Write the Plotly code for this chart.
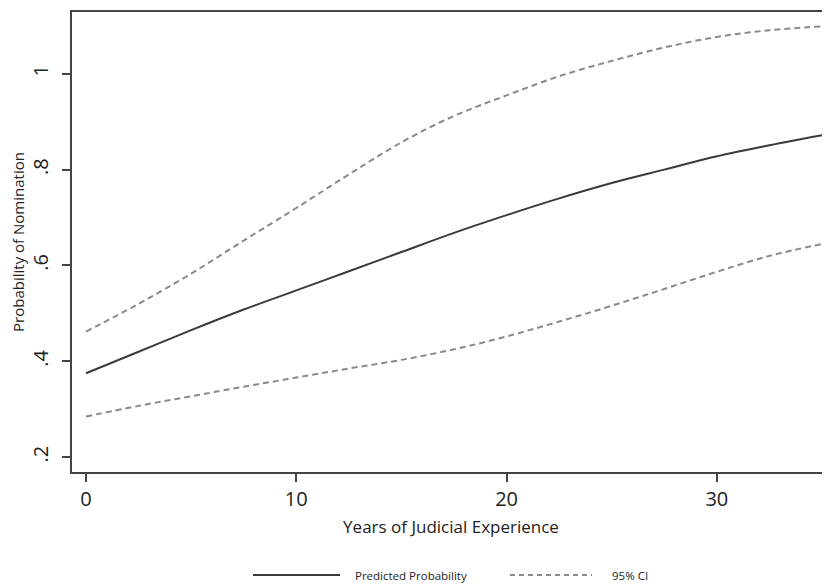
import plotly.graph_objects as go

years = [0, 2.5, 5, 7.5, 10, 12.5, 15, 17.5, 20, 22.5, 25, 27.5, 30, 32.5, 35]
predicted = [0.375, 0.420, 0.465, 0.508, 0.548, 0.588, 0.628, 0.668, 0.705,
             0.740, 0.772, 0.800, 0.828, 0.851, 0.872]
ci_upper = [0.462, 0.520, 0.583, 0.652, 0.720, 0.790, 0.857, 0.912, 0.955,
            0.995, 1.027, 1.055, 1.077, 1.091, 1.099]
ci_lower = [0.285, 0.307, 0.327, 0.347, 0.366, 0.385, 0.403, 0.425, 0.452,
            0.483, 0.516, 0.551, 0.587, 0.620, 0.645]

y_ticks = [0.2, 0.4, 0.6, 0.8, 1.0]
y_tick_labels = [".2", ".4", ".6", ".8", "1"]
x_ticks = [0, 10, 20, 30]
legend_labels = ["Predicted Probability", "95% CI"]

font_family = "Open Sans, Lato, sans-serif"
solid_color = "#3a3a3a"
dash_color = "#8a8a8a"
dash_style = "6px,4px"

fig = go.Figure()
fig.add_trace(go.Scatter(x=years, y=predicted, mode="lines", name=legend_labels[0],
                         line=dict(color=solid_color, width=2, shape="spline")))
fig.add_trace(go.Scatter(x=years, y=ci_upper, mode="lines", name=legend_labels[1],
                         line=dict(color=dash_color, width=2, dash=dash_style, shape="spline")))
fig.add_trace(go.Scatter(x=years, y=ci_lower, mode="lines", name=legend_labels[1],
                         line=dict(color=dash_color, width=2, dash=dash_style, shape="spline")))

# legend drawn below the plot (line samples + labels)
leg_y = -0.224
fig.add_shape(type="line", xref="paper", yref="paper", x0=0.2388, x1=0.3536,
              y0=leg_y, y1=leg_y, line=dict(color=solid_color, width=2))
fig.add_shape(type="line", xref="paper", yref="paper", x0=0.5778, x1=0.686,
              y0=leg_y, y1=leg_y, line=dict(color=dash_color, width=2, dash="5px,4px"))
fig.add_annotation(xref="paper", yref="paper", x=0.3707, y=leg_y, xanchor="left",
                   yanchor="middle", text=legend_labels[0], showarrow=False,
                   font=dict(size=11.5, color="#222"))
fig.add_annotation(xref="paper", yref="paper", x=0.7098, y=leg_y, xanchor="left",
                   yanchor="middle", text=legend_labels[1], showarrow=False,
                   font=dict(size=11.5, color="#222"))

fig.update_layout(
    width=822, height=580,
    margin=dict(l=64, r=0, t=4, b=116, autoexpand=False),
    paper_bgcolor="white", plot_bgcolor="white",
    font=dict(family=font_family, color="#222"),
    showlegend=False,
    xaxis=dict(range=[-0.666, 35.38], tickvals=x_ticks, ticks="outside", ticklen=8,
               tickwidth=1.5, tickcolor="#444", showline=True, linecolor="#444",
               linewidth=2, mirror=True, showgrid=False, zeroline=False, automargin=False,
               tickfont=dict(size=20, color="#222"),
               title=dict(text="Years of Judicial Experience", font=dict(size=17), standoff=10)),
    yaxis=dict(range=[0.169, 1.129], tickvals=y_ticks, ticktext=y_tick_labels,
               ticks="outside", ticklen=8, tickwidth=1.5, tickcolor="#444",
               showline=True, linecolor="#444", linewidth=2, showgrid=False,
               zeroline=False, tickangle=-90, tickfont=dict(size=20, color="#222"),
               ticklabelstandoff=6, automargin=False,
               title=dict(text="Probability of Nomination", font=dict(size=15), standoff=4)),
)

fig.write_html("out.html")
